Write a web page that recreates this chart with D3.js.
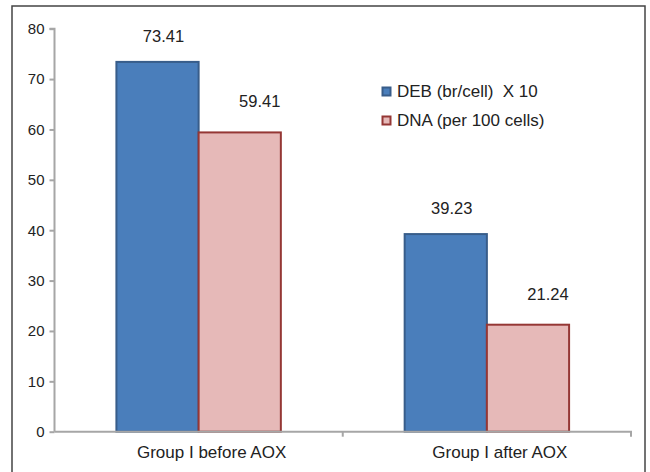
<!DOCTYPE html>
<html>
<head>
<meta charset="utf-8">
<script src="https://cdn.jsdelivr.net/npm/d3@7"></script>
<style>
  html, body { margin: 0; padding: 0; background: #fff; }
  svg { display: block; }
  text { font-family: "Liberation Sans", Arial, sans-serif; fill: #222; white-space: pre; }
</style>
</head>
<body>
<svg id="chart" width="650" height="472"></svg>
<script>
const categories = ["Group I before AOX", "Group I after AOX"];
const seriesNames = ["DEB (br/cell)  X 10", "DNA (per 100 cells)"];
const debValues = [73.41, 39.23];
const dnaValues = [59.41, 21.24];
const yTicks = [0, 10, 20, 30, 40, 50, 60, 70, 80];

const seriesValues = [debValues, dnaValues];
const fills = ["#4a7ebb", "#e6b9b8"];
const strokes = ["#385d8a", "#953735"];
const labelDx = [6, 20];
const labelDy = [-20, -25];

const svg = d3.select("#chart");

// frame
svg.append("rect")
  .attr("x", 12).attr("y", 6)
  .attr("width", 633).attr("height", 480)
  .attr("fill", "none").attr("stroke", "#444").attr("stroke-width", 1.5);

const plotLeft = 54.5, plotRight = 631, plotTop = 28.7, plotBottom = 431.7;

const y = d3.scaleLinear().domain([0, 80]).range([plotBottom, plotTop]);
const x0 = d3.scaleBand().domain(categories).range([plotLeft, plotRight]).padding(0);
const x1 = d3.scaleBand().domain(d3.range(seriesNames.length))
  .range([0, x0.bandwidth()]).paddingInner(0).paddingOuter(0.753);

// y axis
const yAxis = svg.append("g")
  .attr("transform", `translate(${plotLeft},0)`)
  .call(d3.axisLeft(y).tickValues(yTicks).tickSize(5).tickPadding(5).tickFormat(d3.format("d")));
yAxis.select(".domain").attr("stroke", "#a6a6a6").attr("stroke-width", 2)
  .attr("d", `M-5,${plotTop}H0V${plotBottom}`);
yAxis.selectAll(".tick line").attr("stroke", "#a6a6a6").attr("stroke-width", 2);
yAxis.selectAll(".tick text").attr("font-size", "15px").attr("fill", "#222")
  .style("font-family", '"Liberation Sans", Arial, sans-serif');

// bars
const groups = svg.append("g").selectAll("g")
  .data(categories)
  .join("g")
  .attr("transform", d => `translate(${x0(d)},0)`);

groups.selectAll("rect")
  .data((d, i) => seriesValues.map((vals, s) => ({ s, v: vals[i] })))
  .join("rect")
  .attr("x", d => x1(d.s))
  .attr("y", d => y(d.v))
  .attr("width", x1.bandwidth())
  .attr("height", d => y(0) - y(d.v))
  .attr("fill", d => fills[d.s])
  .attr("stroke", d => strokes[d.s])
  .attr("stroke-width", 2);

groups.selectAll("text.val")
  .data((d, i) => seriesValues.map((vals, s) => ({ s, v: vals[i] })))
  .join("text")
  .attr("class", "val")
  .attr("x", d => x1(d.s) + x1.bandwidth() / 2 + labelDx[d.s])
  .attr("y", d => y(d.v) + labelDy[d.s])
  .attr("text-anchor", "middle")
  .attr("font-size", "16.5px")
  .text(d => d.v.toFixed(2));

// x axis
const xAxis = svg.append("g")
  .attr("transform", `translate(0,${plotBottom})`)
  .call(d3.axisBottom(x0).tickSize(0).tickPadding(14));
xAxis.select(".domain").attr("stroke", "#a6a6a6").attr("stroke-width", 2)
  .attr("d", `M${plotLeft},0H${plotRight}V5`);
xAxis.selectAll(".tick text").attr("font-size", "17px").attr("fill", "#222")
  .attr("dx", 13)
  .style("font-family", '"Liberation Sans", Arial, sans-serif');
// category separator ticks
svg.append("g").selectAll("line")
  .data(categories.slice(1))
  .join("line")
  .attr("x1", d => x0(d)).attr("x2", d => x0(d))
  .attr("y1", plotBottom).attr("y2", plotBottom + 5)
  .attr("stroke", "#a6a6a6").attr("stroke-width", 2);

// legend
const legend = svg.append("g").attr("transform", "translate(382,84)");
const li = legend.selectAll("g").data(seriesNames).join("g")
  .attr("transform", (d, i) => `translate(0,${i * 29})`);
li.append("rect")
  .attr("x", 0.5).attr("y", 3.5).attr("width", 8).attr("height", 8)
  .attr("fill", (d, i) => fills[i]).attr("stroke", (d, i) => strokes[i]).attr("stroke-width", 2);
li.append("text")
  .attr("x", 15).attr("y", 12.5)
  .attr("font-size", "17px")
  .text(d => d);
</script>
</body>
</html>
